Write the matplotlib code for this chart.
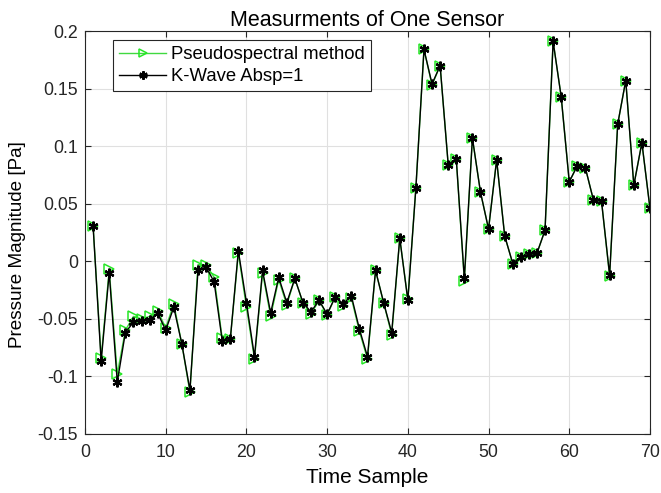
import matplotlib
matplotlib.use("Agg")
import matplotlib.pyplot as plt
import numpy as np

plt.rcParams['font.family'] = ['Liberation Sans', 'DejaVu Sans']

time_sample = list(range(1, 71))

kwave = [0.031, -0.087, -0.010, -0.105, -0.062, -0.053, -0.052, -0.051, -0.045, -0.060,
         -0.040, -0.072, -0.112, -0.008, -0.005, -0.018, -0.069, -0.068, 0.009, -0.036,
         -0.083, -0.008, -0.045, -0.014, -0.036, -0.015, -0.036, -0.044, -0.034, -0.046,
         -0.031, -0.037, -0.030, -0.059, -0.083, -0.008, -0.036, -0.062, 0.020, -0.034,
         0.064, 0.184, 0.154, 0.170, 0.084, 0.089, -0.015, 0.107, 0.060, 0.028,
         0.088, 0.022, -0.002, 0.004, 0.006, 0.007, 0.027, 0.191, 0.143, 0.069,
         0.083, 0.081, 0.053, 0.052, -0.012, 0.119, 0.157, 0.066, 0.103, 0.046]

pseudo = [0.031, -0.084, -0.007, -0.098, -0.060, -0.048, -0.050, -0.048, -0.043, -0.058,
          -0.037, -0.072, -0.114, -0.003, -0.003, -0.014, -0.067, -0.068, 0.007, -0.040,
          -0.085, -0.010, -0.048, -0.016, -0.038, -0.015, -0.036, -0.046, -0.034, -0.047,
          -0.031, -0.039, -0.032, -0.061, -0.085, -0.008, -0.036, -0.064, 0.020, -0.033,
          0.064, 0.184, 0.153, 0.170, 0.084, 0.089, -0.017, 0.107, 0.060, 0.028,
          0.088, 0.022, -0.002, 0.004, 0.006, 0.007, 0.027, 0.191, 0.143, 0.069,
          0.083, 0.081, 0.053, 0.052, -0.013, 0.119, 0.157, 0.066, 0.103, 0.046]

xticks = [0, 10, 20, 30, 40, 50, 60, 70]
yticks = [-0.15, -0.1, -0.05, 0, 0.05, 0.1, 0.15, 0.2]
ytick_labels = ['-0.15', '-0.1', '-0.05', '0', '0.05', '0.1', '0.15', '0.2']

fig = plt.figure(figsize=(6.61, 4.93), dpi=100)
ax = fig.add_axes([0.1286, 0.120, 0.8547, 0.817])

green_line = (0.25, 0.85, 0.25)
green_marker = (0.15, 0.9, 0.15)
ax.plot(time_sample, pseudo, color=green_line, lw=1.0, marker='>', markersize=7.5,
        markerfacecolor='none', markeredgecolor=green_marker, markeredgewidth=1.1,
        label='Pseudospectral method')
ax.plot(time_sample, kwave, color='black', lw=1.0, marker=(6, 2, 0), markersize=7,
        markeredgewidth=1.6, label='K-Wave Absp=1')

ax.set_xlim(0, 70)
ax.set_ylim(-0.15, 0.2)
ax.set_xticks(xticks)
ax.set_yticks(yticks)
ax.set_yticklabels(ytick_labels)
ax.grid(True, color=(0.88, 0.88, 0.88), lw=0.8)
ax.set_axisbelow(True)
ax.tick_params(direction='in', top=True, right=True, labelsize=12.8, colors=(0.15, 0.15, 0.15),
               length=4)
ax.tick_params(axis='x', pad=7)
ax.tick_params(axis='y', pad=5)
for s in ax.spines.values():
    s.set_color((0.15, 0.15, 0.15))
    s.set_linewidth(0.8)

ax.set_title('Measurments of One Sensor', fontsize=15.5, pad=4)
ax.set_xlabel('Time Sample', fontsize=15, labelpad=5)
ax.set_ylabel('Pressure Magnitude [Pa]', fontsize=13.6)
ax.yaxis.set_label_coords(-0.105, 0.47)

leg = ax.legend(loc='upper left', bbox_to_anchor=(0.049, 0.978), fontsize=13.3, fancybox=False,
                framealpha=1, edgecolor=(0.15, 0.15, 0.15), handlelength=2.55,
                borderpad=0.35, labelspacing=0.25, handletextpad=0.25, borderaxespad=0,
                numpoints=1)
leg.get_frame().set_linewidth(0.8)
for h in leg.legend_handles:
    h.set_markersize(6)

fig.savefig('out.png', dpi=100)
